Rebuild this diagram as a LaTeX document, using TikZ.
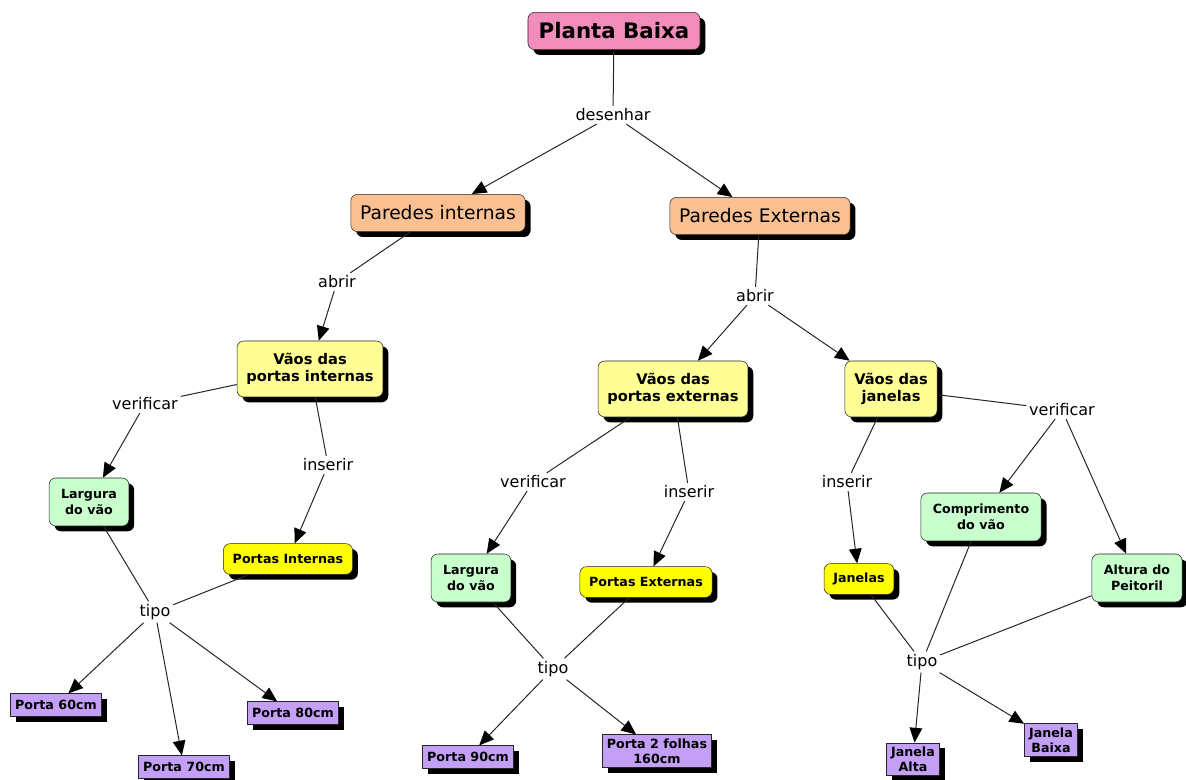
\documentclass[tikz,border=0pt]{standalone}
\usepackage{fontspec}
\setmainfont{DejaVu Sans}
\usetikzlibrary{arrows.meta,shadows}
\definecolor{rosa}{RGB}{242,140,186}
\definecolor{pessego}{RGB}{250,192,145}
\definecolor{creme}{RGB}{255,255,150}
\definecolor{amarelo}{RGB}{255,255,0}
\definecolor{menta}{RGB}{200,255,205}
\definecolor{lilas}{RGB}{195,160,245}
\tikzset{
  conceito/.style={draw=black!85,rounded corners=5pt,align=center,inner xsep=7pt,
    drop shadow={shadow xshift=4pt,shadow yshift=-4pt,fill=black,opacity=1}},
  raiz/.style={conceito,fill=rosa,font=\bfseries\fontsize{16}{19}\selectfont,minimum height=28pt,inner xsep=8pt},
  parede/.style={conceito,fill=pessego,font=\fontsize{14}{17}\selectfont,minimum height=28pt},
  vao/.style={conceito,fill=creme,font=\bfseries\fontsize{11}{13}\selectfont,minimum height=42pt},
  medida/.style={conceito,fill=menta,font=\bfseries\fontsize{9.5}{12}\selectfont,minimum height=36pt,inner xsep=9pt},
  porta/.style={conceito,fill=amarelo,font=\bfseries\fontsize{9.5}{12}\selectfont,minimum height=23pt},
  item/.style={conceito,sharp corners,fill=lilas,font=\bfseries\fontsize{9.5}{11}\selectfont,inner xsep=3.5pt,inner ysep=3pt,minimum height=17pt},
  rotulo/.style={font=\fontsize{12}{14}\selectfont,inner sep=2pt},
  liga/.style={draw=black!85,line width=0.75pt},
  seta/.style={liga,-{Triangle[length=11pt,width=9.5pt,color=black]}}
}
\begin{document}
\begin{tikzpicture}[x=0.75pt,y=-0.75pt]
  \useasboundingbox (0,0) rectangle (1186,780);
  \node[raiz] (planta) at (614,31) {Planta Baixa};
  \node[rotulo] (desenhar) at (613,115) {desenhar};
  \node[parede] (pint) at (438,213) {Paredes internas};
  \node[parede] (pext) at (760,216) {Paredes Externas};
  \node[rotulo] (abrirI) at (337,282) {abrir};
  \node[rotulo] (abrirE) at (755,296) {abrir};
  \node[vao] (vpi) at (310,369) {Vãos das\\portas internas};
  \node[vao] (vpe) at (673,389) {Vãos das\\portas externas};
  \node[vao] (vj) at (891,389) {Vãos das\\janelas};
  \node[rotulo] (verI) at (145,404) {verificar};
  \node[rotulo] (insI) at (328,465) {inserir};
  \node[rotulo] (verE) at (533,482) {verificar};
  \node[rotulo] (insE) at (689,492) {inserir};
  \node[rotulo] (insJ) at (847,482) {inserir};
  \node[rotulo] (verJ) at (1062,410) {verificar};
  \node[medida] (largI) at (89,502) {Largura\\do vão};
  \node[porta] (pti) at (288,559) {Portas Internas};
  \node[medida] (largE) at (471,578) {Largura\\do vão};
  \node[porta] (pte) at (646,582) {Portas Externas};
  \node[medida] (comp) at (981,517) {Comprimento\\do vão};
  \node[medida] (alt) at (1137,578) {Altura do\\Peitoril};
  \node[porta] (jan) at (859,579) {Janelas};
  \node[rotulo] (tipoI) at (155,612) {tipo};
  \node[rotulo] (tipoE) at (553,669) {tipo};
  \node[rotulo] (tipoJ) at (922,662) {tipo};
  \node[item] (p60) at (56,705) {Porta 60cm};
  \node[item] (p70) at (184,767) {Porta 70cm};
  \node[item] (p80) at (293,713) {Porta 80cm};
  \node[item] (p90) at (468,757) {Porta 90cm};
  \node[item] (p160) at (657,751) {Porta 2 folhas\\160cm};
  \node[item] (jalta) at (913,759) {Janela\\Alta};
  \node[item] (jbaixa) at (1051,740) {Janela\\Baixa};
  \draw[liga] (planta) -- (desenhar);
  \draw[seta] (desenhar) -- (pint);
  \draw[seta] (desenhar) -- (pext);
  \draw[liga] (pint) -- (abrirI);
  \draw[seta] (abrirI) -- (vpi);
  \draw[liga] (pext) -- (abrirE);
  \draw[seta] (abrirE) -- (vpe);
  \draw[seta] (abrirE) -- (vj);
  \draw[liga] (vpi) -- (verI);
  \draw[seta] (verI) -- (largI);
  \draw[liga] (vpi) -- (insI);
  \draw[seta] (insI) -- (pti);
  \draw[liga] (vpe) -- (verE);
  \draw[seta] (verE) -- (largE);
  \draw[liga] (vpe) -- (insE);
  \draw[seta] (insE) -- (pte);
  \draw[liga] (vj) -- (insJ);
  \draw[seta] (insJ) -- (jan);
  \draw[liga] (vj) -- (verJ);
  \draw[seta] (verJ) -- (comp);
  \draw[seta] (verJ) -- (alt);
  \foreach \de in {largI,pti}{\draw[liga] (\de) -- (tipoI);}
  \foreach \de in {largE,pte}{\draw[liga] (\de) -- (tipoE);}
  \foreach \de in {jan,comp,alt}{\draw[liga] (\de) -- (tipoJ);}
  \foreach \para in {p60,p70,p80}{\draw[seta] (tipoI) -- (\para);}
  \foreach \para in {p90,p160}{\draw[seta] (tipoE) -- (\para);}
  \foreach \para in {jalta,jbaixa}{\draw[seta] (tipoJ) -- (\para);}
\end{tikzpicture}
\end{document}
